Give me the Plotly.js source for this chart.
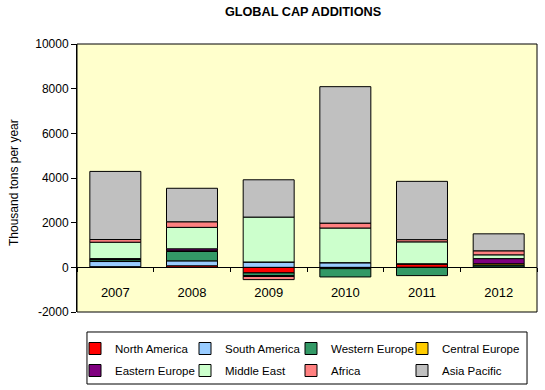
<!DOCTYPE html>
<html>
<head>
<meta charset="utf-8">
<script src="https://cdn.plot.ly/plotly-3.0.1.min.js"></script>
<style>html,body{margin:0;padding:0;background:#fff;}#chart{width:545px;height:390px;}</style>
</head>
<body>
<div id="chart"></div>
<script>
var years = ['2007', '2008', '2009', '2010', '2011', '2012'];
var seriesNames = ['North America', 'South America', 'Western Europe', 'Central Europe',
                   'Eastern Europe', 'Middle East', 'Africa', 'Asia Pacific'];
var northAmerica  = [30, 70, -250, -60, 160, 20];
var southAmerica  = [230, 220, 240, 210, 0, 0];
var westernEurope = [80, 420, -120, -370, -370, 80];
var centralEurope = [20, 30, 0, 0, 0, 60];
var easternEurope = [30, 90, -40, 0, 0, 230];
var middleEast    = [735, 960, 2010, 1550, 980, 170];
var africa        = [120, 250, -140, 220, 100, 180];
var asiaPacific   = [3050, 1500, 1670, 6110, 2610, 760];
var yTickValues = [-2000, 0, 2000, 4000, 6000, 8000, 10000];
var yAxisTitle = 'Thousand tons per year';

var seriesValues = [northAmerica, southAmerica, westernEurope, centralEurope,
                    easternEurope, middleEast, africa, asiaPacific];
var colors = ['#FF0000', '#99CCFF', '#339966', '#FFCC00', '#800080', '#CCFFCC', '#FF8080', '#C0C0C0'];
// legend column of each series (4 columns, 2 rows as in the original)
var legendIds = ['legend', 'legend2', 'legend3', 'legend4', 'legend', 'legend2', 'legend3', 'legend4'];

var FONT = 'Arial, "Liberation Sans", sans-serif';
var traces = seriesNames.map(function (name, i) {
  return {
    type: 'bar', name: name, x: years, y: seriesValues[i],
    marker: {color: colors[i], line: {color: '#000000', width: 1}},
    legend: legendIds[i], legendgroup: 'g' + i,
    hoverinfo: 'x+y+name'
  };
});

var yMin = -2000, yMax = 10000;
function legendAt(px) {
  return {
    orientation: 'v', xref: 'container', x: px / 545, xanchor: 'left',
    yref: 'container', y: 1 - 334 / 390, yanchor: 'top',
    font: {family: FONT, size: 11.5, color: '#000'},
    bgcolor: 'rgba(0,0,0,0)', borderwidth: 0, tracegroupgap: 3,
    traceorder: 'grouped', itemclick: false
  };
}
var layout = {
  width: 545, height: 390,
  margin: {l: 77, r: 8, t: 44, b: 78, pad: 0, autoexpand: false},
  paper_bgcolor: '#FFFFFF', plot_bgcolor: '#FFFFCC',
  barmode: 'relative', bargap: 0.335,
  font: {family: FONT, color: '#000000', size: 12},
  title: {text: '<b>GLOBAL CAP ADDITIONS</b>', font: {family: FONT, size: 12.7, color: '#000'},
          xref: 'container', x: 0.556, xanchor: 'center', yref: 'container', y: 0.970, yanchor: 'middle'},
  xaxis: {
    type: 'category', anchor: 'free', position: (0 - yMin) / (yMax - yMin),
    showline: true, linecolor: '#000', linewidth: 1,
    ticks: 'outside', tickson: 'boundaries', ticklen: 4, tickcolor: '#000',
    tickfont: {family: FONT, size: 13, color: '#000'}, ticklabelstandoff: 13,
    showgrid: false, zeroline: false, fixedrange: true, automargin: false
  },
  yaxis: {
    range: [yMin, yMax], tickvals: yTickValues, ticktext: yTickValues.map(String),
    showline: true, linecolor: '#000', linewidth: 1,
    ticks: 'outside', ticklen: 5, tickcolor: '#000',
    tickfont: {family: FONT, size: 12, color: '#000'},
    showgrid: false, zeroline: false, fixedrange: true, automargin: false
  },
  annotations: [
    {text: yAxisTitle, xref: 'paper', yref: 'paper', x: -0.137, y: 0.485,
     xanchor: 'center', yanchor: 'middle', textangle: -90, showarrow: false,
     font: {family: FONT, size: 12, color: '#000'}}
  ],
  showlegend: true,
  legend: legendAt(75),
  legend2: legendAt(185),
  legend3: legendAt(291),
  legend4: legendAt(402),
  shapes: [
    {type: 'rect', xref: 'paper', yref: 'paper', x0: 0, x1: 1, y0: 0, y1: 1,
     line: {color: '#000', width: 1}, fillcolor: 'rgba(0,0,0,0)', layer: 'above'},
    {type: 'rect', xref: 'paper', yref: 'paper', x0: 0.0217, x1: 0.9783, y0: -0.0746, y1: -0.2687,
     line: {color: '#000', width: 1}, fillcolor: 'rgba(0,0,0,0)', layer: 'below'}
  ]
};

Plotly.newPlot('chart', traces, layout, {displayModeBar: false});
</script>
</body>
</html>
